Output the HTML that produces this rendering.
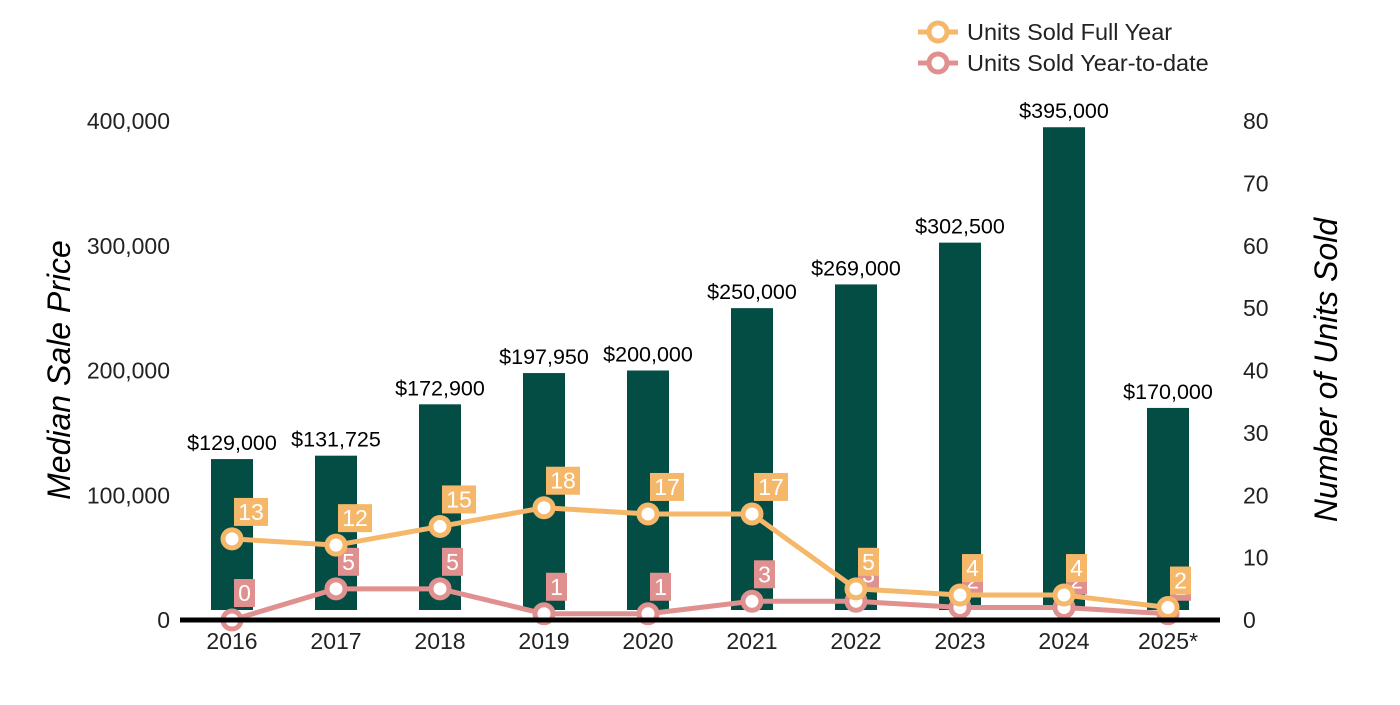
<!DOCTYPE html>
<html><head><meta charset="utf-8"><style>
body{margin:0;background:#fff;}
svg text{font-family:"Liberation Sans",Arial,sans-serif;}
</style></head><body>
<svg id="chart" width="1400" height="700">
<g id="bars"></g><g id="lines"></g><g id="axes"></g>
<g>
 <g>
  <line x1="918" y1="32" x2="958" y2="32" stroke="#F5B76A" stroke-width="5"/>
  <circle cx="938" cy="32" r="9" fill="#fff" stroke="#F5B76A" stroke-width="5"/>
  <text x="967" y="40" font-size="23.5" fill="#222">Units Sold Full Year</text>
 </g>
 <g>
  <line x1="918" y1="63" x2="958" y2="63" stroke="#E0908F" stroke-width="5"/>
  <circle cx="938" cy="63" r="9" fill="#fff" stroke="#E0908F" stroke-width="5"/>
  <text x="967" y="71" font-size="23.5" fill="#222">Units Sold Year-to-date</text>
 </g>
</g>
</svg>
<script>
const categories=["2016","2017","2018","2019","2020","2021","2022","2023","2024","2025*"];
const prices=[129000,131725,172900,197950,200000,250000,269000,302500,395000,170000];
const priceLabels=["$129,000","$131,725","$172,900","$197,950","$200,000","$250,000","$269,000","$302,500","$395,000","$170,000"];
const fullYear=[13,12,15,18,17,17,5,4,4,2];
const ytd=[0,5,5,1,1,3,3,2,2,1];
const leftTicks=[0,100000,200000,300000,400000];
const leftTickLabels=["0","100,000","200,000","300,000","400,000"];
const rightTicks=[0,10,20,30,40,50,60,70,80];

const NS="http://www.w3.org/2000/svg";
const y0=620,yTop=121;
const yL=v=>y0-v/400000*(y0-yTop);
const yR=v=>y0-v/80*(y0-yTop);
const xC=i=>232+i*104;
function mk(t,a,p,txt){const e=document.createElementNS(NS,t);for(const k in a)e.setAttribute(k,a[k]);if(txt!==undefined)e.textContent=txt;p.appendChild(e);return e;}
const bars=document.getElementById('bars'),lines=document.getElementById('lines'),axes=document.getElementById('axes');

prices.forEach((v,i)=>{
 const r=mk('rect',{x:xC(i)-21,y:yL(v),width:42,height:Math.max(0,610-yL(v)),fill:'#034D44'},bars);
 
 
 const t=mk('text',{x:xC(i),y:yL(v)-9,'text-anchor':'middle','font-size':21.5,fill:'#000'},bars,priceLabels[i]);
 
 
});

function series(vals,color,name){
 const pts=vals.map((v,i)=>xC(i)+','+yR(v)).join(' ');
 const pl=mk('polyline',{points:pts,fill:'none',stroke:color,'stroke-width':5,'stroke-linejoin':'round'},lines);
 
 
 vals.forEach((v,i)=>{
  const c=mk('circle',{cx:xC(i),cy:yR(v),r:9,fill:'#fff',stroke:color,'stroke-width':5},lines);
  
  
 });
}
function labels(vals,color,name){
 vals.forEach((v,i)=>{
  const s=String(v);const w=s.length*13+8;
  const g=mk('g',{},lines);
  
  
  mk('rect',{x:xC(i)+2,y:yR(v)-41,width:w,height:28,fill:color},g);
  mk('text',{x:xC(i)+2+w/2,y:yR(v)-19,'text-anchor':'middle','font-size':23,fill:'#fff'},g,s);
 });
}
series(ytd,'#E0908F','ytd');
labels(ytd,'#E0908F','ytd');
series(fullYear,'#F5B76A','full-year');
labels(fullYear,'#F5B76A','full-year');

const ax=mk('line',{x1:180,y1:620,x2:1220,y2:620,stroke:'#000','stroke-width':5},axes);


categories.forEach((c,i)=>{
 const t=mk('text',{x:xC(i),y:649,'text-anchor':'middle','font-size':23,fill:'#222'},axes,c);
 
 
});
leftTicks.forEach((v,i)=>{
 const t=mk('text',{x:170,y:yL(v)+8,'text-anchor':'end','font-size':23,fill:'#222'},axes,leftTickLabels[i]);
 
 
});
rightTicks.forEach(v=>{
 const t=mk('text',{x:1243,y:yR(v)+8,'font-size':23,fill:'#222'},axes,String(v));
 
 
});
const lt=mk('text',{x:0,y:0,transform:'translate(70,370) rotate(-90)','text-anchor':'middle','font-size':32,'font-style':'italic',fill:'#000'},axes,'Median Sale Price');


const rt=mk('text',{x:0,y:0,transform:'translate(1337,370) rotate(-90)','text-anchor':'middle','font-size':32,'font-style':'italic',fill:'#000'},axes,'Number of Units Sold');


</script>
</body></html>
